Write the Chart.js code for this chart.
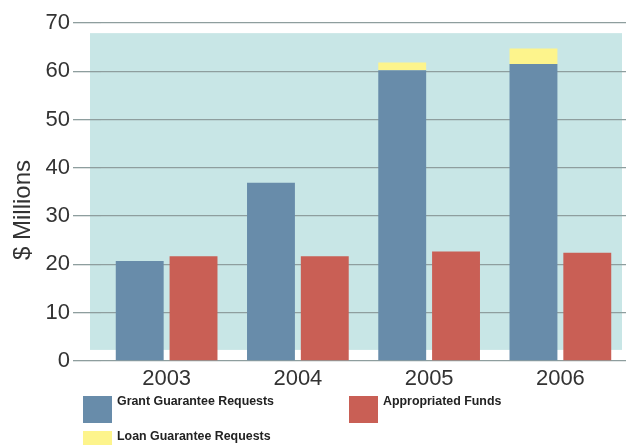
<!DOCTYPE html>
<html>
<head>
<meta charset="utf-8">
<script src="https://cdn.jsdelivr.net/npm/chart.js@4/dist/chart.umd.min.js"></script>
<style>
  html, body { margin: 0; padding: 0; background: #fff; }
  #wrap { position: relative; width: 626px; height: 445px; overflow: hidden; }
  #chart { position: absolute; left: 0; top: 0; }
  .key { position: absolute; font: bold 12.4px "Liberation Sans", Arial, sans-serif; color: #222; white-space: nowrap; }
  .key span { position: absolute; }
  .key b { position: absolute; top: 0; }
</style>
</head>
<body>
<div id="wrap">
  <canvas id="chart" width="626" height="445"></canvas>
  <div id="legend"></div>
</div>
<script>
const years = ['2003', '2004', '2005', '2006'];
const grantRequests = [20.7, 36.9, 60.2, 61.5];
const loanRequests = [0, 0, 1.6, 3.2];
const appropriatedFunds = [21.7, 21.7, 22.7, 22.4];
const yTicks = [0, 10, 20, 30, 40, 50, 60, 70];

const blue = '#688caa';
const red = '#c95f55';
const yellow = '#fdf48c';
const teal = '#c8e6e6';
const gridGray = '#8e9e9e';
const axisFont = { family: '"Liberation Sans", Arial', size: 22 };

// shaded panel behind the bars (value range, offset to the left of the plot)
const panel = { low: 2.3, high: 67.9, leftOffset: 11, rightInset: 4 };

const panelPlugin = {
    id: 'panel',
    beforeDraw(chart) {
        const { ctx, chartArea, scales } = chart;
        const top = scales.y.getPixelForValue(panel.high);
        const bottom = scales.y.getPixelForValue(panel.low);
        ctx.save();
        ctx.fillStyle = teal;
        ctx.fillRect(chartArea.left - panel.leftOffset, top,
            chartArea.right - panel.rightInset - chartArea.left + panel.leftOffset, bottom - top);
        ctx.restore();
    }
};

// axis title sits a bit below the middle of the plot in the original
const yTitlePlugin = {
    id: 'yTitle',
    afterDraw(chart) {
        const ctx = chart.ctx;
        ctx.save();
        ctx.translate(23, 210);
        ctx.rotate(-Math.PI / 2);
        ctx.fillStyle = '#333';
        ctx.font = '24px "Liberation Sans", Arial';
        ctx.textAlign = 'center';
        ctx.textBaseline = 'middle';
        ctx.fillText('$ Millions', 0, 0);
        ctx.restore();
    }
};

const chart = new Chart(document.getElementById('chart').getContext('2d'), {
    type: 'bar',
    data: {
        labels: years,
        datasets: [
            { label: 'Grant Guarantee Requests', data: grantRequests, backgroundColor: blue, stack: 'req' },
            { label: 'Loan Guarantee Requests', data: loanRequests, backgroundColor: yellow, stack: 'req' },
            { label: 'Appropriated Funds', data: appropriatedFunds, backgroundColor: red, stack: 'funds' }
        ]
    },
    options: {
        responsive: false,
        animation: false,
        categoryPercentage: 0.82,
        barPercentage: 0.89,
        layout: { padding: { left: 6, right: 0, top: 23, bottom: 0 } },
        plugins: { legend: { display: false }, tooltip: { enabled: false } },
        scales: {
            x: {
                stacked: true,
                afterFit: s => { s.height = 84; },
                grid: { display: false, drawTicks: false },
                border: { display: false },
                ticks: { color: '#333', padding: 5, font: axisFont }
            },
            y: {
                stacked: true,
                min: 0,
                max: 70,
                afterBuildTicks: s => { s.ticks = yTicks.map(v => ({ value: v })); },
                afterFit: s => { s.width = 95; },
                grid: { color: gridGray, lineWidth: 1.3, tickLength: 28, tickColor: gridGray },
                border: { display: false },
                ticks: { color: '#333', padding: 3, font: axisFont }
            }
        }
    },
    plugins: [panelPlugin, yTitlePlugin]
});

// legend laid out like the original: two items on the first row, one below
const legendSpots = [
    { ds: 0, x: 83, y: 396, h: 27 },
    { ds: 2, x: 349, y: 396, h: 27 },
    { ds: 1, x: 83, y: 431, h: 27 }
];
const legend = document.getElementById('legend');
legendSpots.forEach(spot => {
    const ds = chart.data.datasets[spot.ds];
    const item = document.createElement('div');
    item.className = 'key';
    item.style.left = spot.x + 'px';
    item.style.top = spot.y + 'px';
    item.innerHTML = `<span style="left:0;top:0;width:29px;height:${spot.h}px;background:${ds.backgroundColor}"></span>` +
        `<b style="left:34px;top:-2px">${ds.label}</b>`;
    legend.appendChild(item);
});
</script>
</body>
</html>
